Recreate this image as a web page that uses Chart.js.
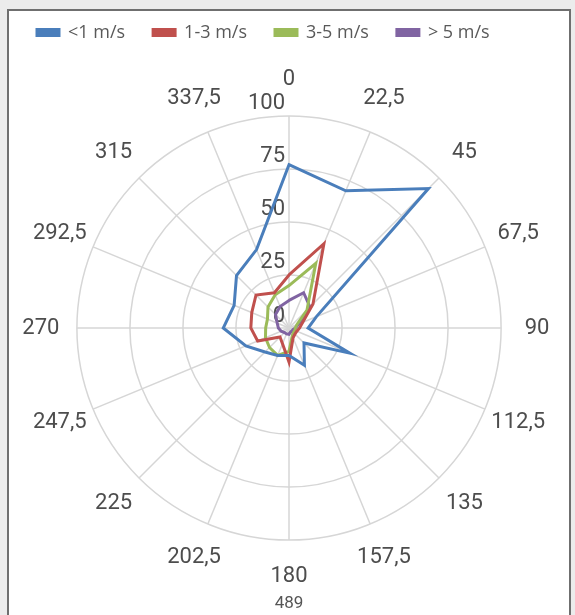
<!DOCTYPE html>
<html>
<head>
<meta charset="utf-8">
<script src="https://cdn.jsdelivr.net/npm/chart.js@4.4.1/dist/chart.umd.min.js"></script>
<style>
  html, body { margin: 0; padding: 0; background: #ececec; overflow: hidden; }
  .marco {
    position: absolute; left: 7px; top: 9px; width: 560px; height: 640px;
    border: 2px solid #6f6f6f; background: #fff;
  }
  .grafica { position: absolute; left: 0; top: 0; width: 559px; height: 604px; }
</style>
</head>
<body>
<div class="marco">
  <div class="grafica"><canvas id="rosaVientos"></canvas></div>
</div>
<script>
// direcciones (grados)
const direcciones = ['0', '22,5', '45', '67,5', '90', '112,5', '135', '157,5',
                     '180', '202,5', '225', '247,5', '270', '292,5', '315', '337,5'];
const nombresSeries = ['<1 m/s', '1-3 m/s', '3-5 m/s', '> 5 m/s'];

// frecuencias por direccion
const menos1 = [77, 70, 93, 14, 9, 31, 10, 19, 13, 14, 16, 22, 31, 28, 35, 40];
const de1a3  = [25, 43, 16, 7, 5, 4, 4, 5, 16, 8, 6, 16, 18, 19, 22, 18];
const de3a5  = [20, 33, 12, 4, 3, 3, 3, 4, 11, 14, 13, 12, 11, 11, 14, 17];
const mas5   = [13, 18, 14, 5, 3, 2, 2, 2, 3, 3, 3, 4, 5, 6, 9, 11];

const valoresEje = [0, 25, 50, 75, 100];
const totalMuestras = '489';

const colores = ['#4a7ebb', '#c0504d', '#9bbb59', '#8064a2'];

// textos propios: valores del eje, direcciones centradas y total abajo
const textos = {
  id: 'textos',
  beforeDatasetsDraw(chart) {
    const r = chart.scales.r;
    const ctx = chart.ctx;
    ctx.save();
    ctx.font = '22px Roboto';
    ctx.fillStyle = '#4d4d4d';
    ctx.textBaseline = 'middle';

    ctx.textAlign = 'right';
    valoresEje.forEach(v => {
      const d = r.getDistanceFromCenterForValue(v);
      ctx.fillText(String(v), r.xCenter - 4, r.yCenter - d - 12);
    });

    ctx.textAlign = 'center';
    direcciones.forEach((txt, i) => {
      const p = r.getPointPosition(i, r.drawingArea + 36);
      ctx.fillText(txt, p.x, p.y);
    });

    ctx.font = '17px Roboto';
    ctx.fillStyle = '#555';
    ctx.fillText(totalMuestras, r.xCenter, chart.height - 11);
    ctx.restore();
  }
};

const datos = {
  labels: direcciones,
  datasets: [menos1, de1a3, de3a5, mas5].map((serie, i) => ({
    label: nombresSeries[i],
    data: serie,
    borderColor: colores[i],
    backgroundColor: colores[i],
    borderWidth: 3,
    pointRadius: 0,
    fill: false,
    tension: 0
  }))
};

new Chart(document.getElementById('rosaVientos'), {
  type: 'radar',
  data: datos,
  options: {
    responsive: true,
    maintainAspectRatio: false,
    animation: false,
    layout: { padding: { top: -15.5, bottom: 10.5, left: 0, right: 0 } },
    plugins: {
      legend: {
        position: 'top',
        align: 'start',
        labels: {
          boxWidth: 22, boxHeight: 6, padding: 28,
          color: '#595959',
          font: { family: 'Open Sans', size: 18 }
        }
      },
      tooltip: { enabled: false }
    },
    scales: {
      r: {
        min: 0,
        max: 100,
        ticks: { stepSize: 25, display: false },
        grid: { color: '#d6d6d6', lineWidth: 1.5, circular: true },
        angleLines: { color: '#d6d6d6', lineWidth: 1.5 },
        // etiquetas invisibles: solo reservan el espacio, se dibujan en el plugin
        pointLabels: {
          color: 'rgba(0,0,0,0)',
          padding: ctx => (ctx.index % 8 === 0 ? 38 : 20),
          font: { family: 'Roboto', size: 22 }
        }
      }
    }
  },
  plugins: [textos]
});
</script>
</body>
</html>
